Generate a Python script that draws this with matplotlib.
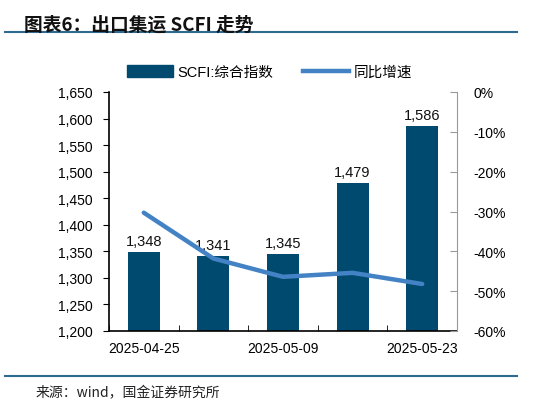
import matplotlib
matplotlib.use("Agg")
import matplotlib.pyplot as plt
from matplotlib.patches import Patch
from matplotlib.lines import Line2D
import numpy as np

plt.rcParams['font.family'] = ['Liberation Sans', 'Noto Sans CJK SC', 'DejaVu Sans']

# data
dates = ['2025-04-25', '2025-05-02', '2025-05-09', '2025-05-16', '2025-05-23']
scfi = [1348, 1341, 1345, 1479, 1586]
yoy = [-30.3, -41.8, -46.4, -45.4, -48.2]   # %
tick_labels = ['2025-04-25', '', '2025-05-09', '', '2025-05-23']

bar_color = '#004a70'
line_color = '#4382c4'

fig = plt.figure(figsize=(5.5, 4.06), dpi=100)
ax = fig.add_axes([109/550, 1 - 332/406, 348/550, 239/406])
ax2 = ax.twinx()

x = np.arange(len(dates))
ax.bar(x, scfi, width=0.46, color=bar_color, zorder=2)
for xi, v in zip(x, scfi):
    ax.text(xi, v + 8, f'{v:,}', ha='center', va='bottom', fontsize=10.5, color='#111111')

ax2.plot(x, yoy, color=line_color, lw=3.2, solid_capstyle='round', zorder=3)

ax.set_xlim(-0.5, len(dates) - 0.5)
ax.set_ylim(1200, 1650)
ax.set_yticks(range(1200, 1651, 50))
ax.set_yticklabels([f'{v:,}' for v in range(1200, 1651, 50)], fontsize=10)
ax2.set_ylim(-60, 0)
ax2.set_yticks(range(-60, 1, 10))
ax2.set_yticklabels([f'{v}%' for v in range(-60, 1, 10)], fontsize=10)

ax.set_xticks(x)
ax.set_xticklabels(tick_labels, fontsize=10)
ax.tick_params(axis='x', length=0, pad=7)
ax.set_xticks(np.arange(-0.5, len(dates), 1), minor=True)
ax.tick_params(axis='x', which='minor', direction='in', length=4, color='black')
ax.tick_params(axis='y', direction='out', length=4, color='black', pad=8)
ax2.tick_params(axis='y', direction='in', length=5, color='#999999', pad=12)

for s in ['top', 'right']:
    ax.spines[s].set_visible(False)
for s in ['top', 'left', 'bottom']:
    ax2.spines[s].set_visible(False)
ax2.spines['right'].set_color('#999999')
ax.spines['left'].set_linewidth(1.2)
ax.spines['bottom'].set_linewidth(1.2)

# bars below, line on top
ax.set_zorder(1)
ax2.set_zorder(2)
ax2.patch.set_visible(False)

handles = [Patch(facecolor=bar_color, edgecolor=bar_color),
           Line2D([0], [0], color=line_color, lw=3.2)]
fig.legend(handles, ['SCFI:综合指数', '同比增速'], loc='center',
           bbox_to_anchor=(0.49, 1 - 73/406), ncol=2, frameon=False,
           fontsize=10.5, handlelength=3.2, handleheight=0.9, columnspacing=2.0,
           handletextpad=0.3)

fig.text(24/550, 1 - 25/406, '图表6：出口集运 SCFI 走势', fontsize=13.5,
         fontweight='bold', style='italic', va='center', ha='left',
         family=['Noto Sans CJK SC', 'DejaVu Sans'], color='#111111')
fig.add_artist(Line2D([5/550, 517/550], [1 - 33/406, 1 - 33/406], color='#2e6b8f', lw=1.5))
fig.add_artist(Line2D([5/550, 517/550], [1 - 377/406, 1 - 377/406], color='#2e6b8f', lw=1.5))
fig.text(36/550, 1 - 393/406, '来源：wind，国金证券研究所', fontsize=10,
         va='center', ha='left', family=['Noto Sans CJK SC', 'DejaVu Sans'], color='#222222')

fig.savefig('out.png', dpi=100)
